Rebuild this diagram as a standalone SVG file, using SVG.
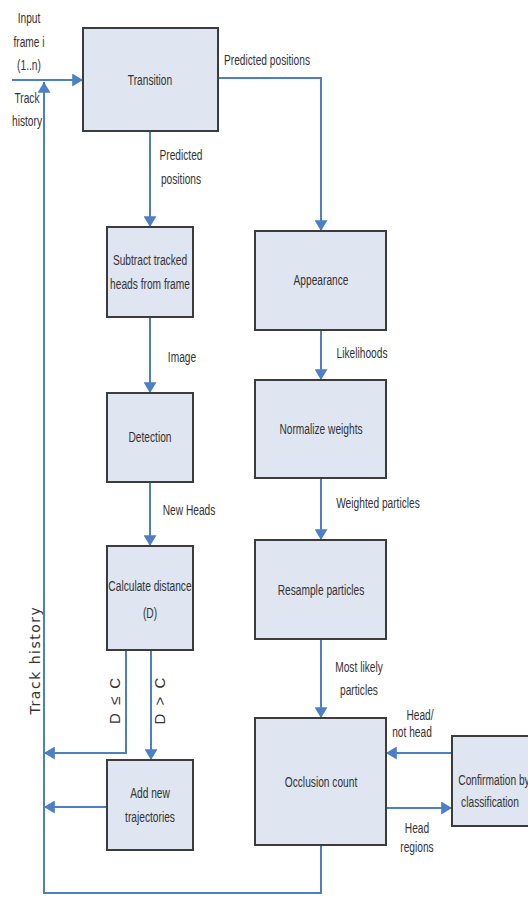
<svg xmlns="http://www.w3.org/2000/svg" width="528" height="905" viewBox="0 0 528 905">
<style>
.box{fill:#dfe5f1;stroke:#3c3c3c;stroke-width:2}
.c{fill:none;stroke:#4d7fc6;stroke-width:2}
.t{font-family:"Liberation Sans",Arial,sans-serif;font-size:15px;fill:#333;text-anchor:middle}
.v{font-family:"DejaVu Sans",Verdana,sans-serif;font-size:14px;fill:#333;text-anchor:middle}
</style>
<defs>
<marker id="ah" viewBox="0 0 10 12" refX="10" refY="6" markerWidth="11" markerHeight="13" markerUnits="userSpaceOnUse" orient="auto">
<path d="M0,0 L10,6 L0,12 z" fill="#4d7fc6"/>
</marker>
</defs>
<rect width="528" height="905" fill="#fff"/>
<g id="connectors">
<path class="c" d="M12,80 H83" stroke-width="2.5" marker-end="url(#ah)"/>
<path class="c" d="M321,845 V893 H44 V82" marker-end="url(#ah)"/>
<path class="c" d="M218,78 H321 V231" marker-end="url(#ah)"/>
<path class="c" d="M150,131 V227" marker-end="url(#ah)"/>
<path class="c" d="M150,317 V393" marker-end="url(#ah)"/>
<path class="c" d="M150,482 V546" marker-end="url(#ah)"/>
<path class="c" d="M151,650 V760" marker-end="url(#ah)"/>
<path class="c" d="M126,650 V753 H44" marker-end="url(#ah)"/>
<path class="c" d="M107,807 H44" stroke-width="2.5" marker-end="url(#ah)"/>
<path class="c" d="M321,330 V380" marker-end="url(#ah)"/>
<path class="c" d="M321,478 V540" marker-end="url(#ah)"/>
<path class="c" d="M321,639 V718" marker-end="url(#ah)"/>
<path class="c" d="M452,753 H386" stroke-width="2.5" marker-end="url(#ah)"/>
<path class="c" d="M386,808 H452" stroke-width="2.5" marker-end="url(#ah)"/>
</g>
<g id="labels">
<text class="t" transform="translate(29,23) scale(0.68,1)">Input</text>
<text class="t" transform="translate(29,47) scale(0.68,1)">frame i</text>
<text class="t" transform="translate(29,70) scale(0.68,1)">(1..n)</text>
<text class="t" transform="translate(27,103) scale(0.68,1)">Track</text>
<text class="t" transform="translate(27,126) scale(0.68,1)">history</text>
<text class="t" transform="translate(267,65) scale(0.68,1)">Predicted positions</text>
<text class="t" transform="translate(181,160) scale(0.68,1)">Predicted</text>
<text class="t" transform="translate(181,184) scale(0.68,1)">positions</text>
<text class="t" transform="translate(182,362) scale(0.68,1)">Image</text>
<text class="t" transform="translate(362,358) scale(0.68,1)">Likelihoods</text>
<text class="t" transform="translate(189,515) scale(0.68,1)">New Heads</text>
<text class="t" transform="translate(378,508) scale(0.68,1)">Weighted particles</text>
<text class="t" transform="translate(359,672) scale(0.68,1)">Most likely</text>
<text class="t" transform="translate(359,695) scale(0.68,1)">particles</text>
<text class="t" transform="translate(420,720) scale(0.68,1)">Head/</text>
<text class="t" transform="translate(412,737) scale(0.68,1)">not head</text>
<text class="t" transform="translate(417,833) scale(0.68,1)">Head</text>
<text class="t" transform="translate(417,852) scale(0.68,1)">regions</text>
<text class="v" transform="translate(40,660) rotate(-90)" letter-spacing="1.5">Track history</text>
<text class="t" transform="translate(120,700) rotate(-90)" letter-spacing="2">D ≤ C</text>
<text class="t" transform="translate(165,700) rotate(-90)" letter-spacing="2">D &gt; C</text>
</g>
<g id="transition">
<rect class="box" x="83" y="28" width="135" height="103"/>
<text class="t" transform="translate(150,85) scale(0.68,1)">Transition</text>
</g>
<g id="subtract">
<rect class="box" x="107" y="227" width="86" height="90"/>
<text class="t" transform="translate(150,265) scale(0.68,1)">Subtract tracked</text>
<text class="t" transform="translate(150,289) scale(0.68,1)">heads from frame</text>
</g>
<g id="detection">
<rect class="box" x="107" y="393" width="86" height="89"/>
<text class="t" transform="translate(150,442) scale(0.68,1)">Detection</text>
</g>
<g id="calculate">
<rect class="box" x="107" y="546" width="86" height="104"/>
<text class="t" transform="translate(150,591) scale(0.68,1)">Calculate distance</text>
<text class="t" transform="translate(150,618) scale(0.68,1)">(D)</text>
</g>
<g id="addnew">
<rect class="box" x="107" y="760" width="86" height="90"/>
<text class="t" transform="translate(150,798) scale(0.68,1)">Add new</text>
<text class="t" transform="translate(150,822) scale(0.68,1)">trajectories</text>
</g>
<g id="appearance">
<rect class="box" x="255" y="231" width="131" height="99"/>
<text class="t" transform="translate(321,285) scale(0.68,1)">Appearance</text>
</g>
<g id="normalize">
<rect class="box" x="255" y="380" width="131" height="98"/>
<text class="t" transform="translate(321,434) scale(0.68,1)">Normalize weights</text>
</g>
<g id="resample">
<rect class="box" x="255" y="540" width="131" height="99"/>
<text class="t" transform="translate(321,595) scale(0.68,1)">Resample particles</text>
</g>
<g id="occlusion">
<rect class="box" x="255" y="718" width="131" height="127"/>
<text class="t" transform="translate(321,787) scale(0.68,1)">Occlusion count</text>
</g>
<g id="confirmation">
<rect class="box" x="452" y="736" width="86" height="90"/>
<text class="t" transform="translate(494,785) scale(0.68,1)">Confirmation by</text>
<text class="t" transform="translate(490,807) scale(0.68,1)">classification</text>
</g>
</svg>
